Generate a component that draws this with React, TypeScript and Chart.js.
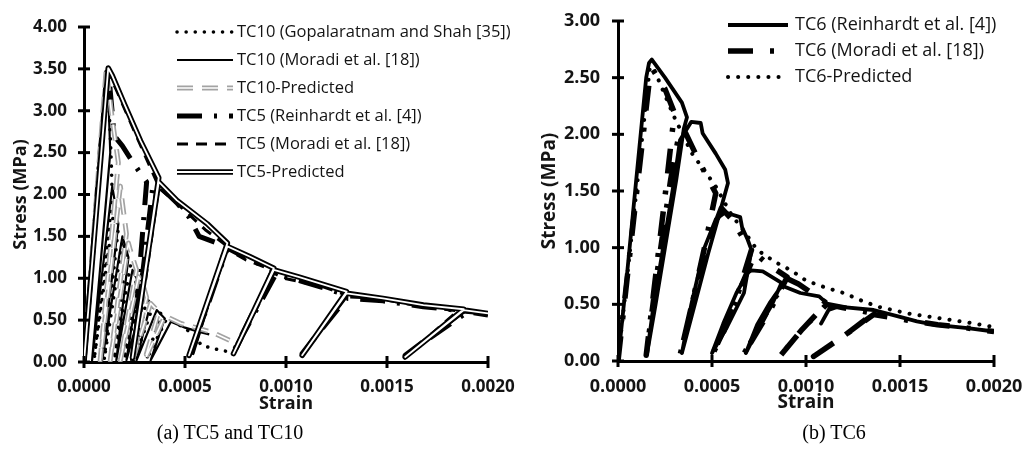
import { useEffect, useRef } from 'react';
import { Chart, registerables } from 'chart.js';

Chart.register(...registerables);
Chart.defaults.font.family = '"Open Sans", "DejaVu Sans", sans-serif';

// ---------- axis ticks ----------
const strainTicks = [0, 0.0005, 0.001, 0.0015, 0.002];
const stressTicksA = [0, 0.5, 1, 1.5, 2, 2.5, 3, 3.5, 4];
const stressTicksB = [0, 0.5, 1, 1.5, 2, 2.5, 3];

// ---------- labels ----------
const legendA = [
  'TC10 (Gopalaratnam and Shah [35])',
  'TC10 (Moradi et al. [18])',
  'TC10-Predicted',
  'TC5 (Reinhardt et al. [4])',
  'TC5 (Moradi et al. [18])',
  'TC5-Predicted',
];
const legendB = ['TC6 (Reinhardt et al. [4])', 'TC6 (Moradi et al. [18])', 'TC6-Predicted'];
const captionA = '(a) TC5 and TC10';
const captionB = '(b) TC6';
const strainTitle = 'Strain';
const stressTitle = 'Stress (MPa)';

// ---------- panel (a): TC10 ----------
const tc10GopStrain = [0, 0.00011, 0.000125, 0.000135, 0.00014, 0.00005, 0.00015, 0.00017, 0.0001, 0.00019, 0.00021, 0.00015, 0.00023, 0.00026, 0.0002, 0.00028, 0.00031, 0.00025, 0.00034, 0.00038, 0.00031, 0.00041, 0.00048, 0.00055, 0.00058, 0.00066, 0.00074];
const tc10GopStress = [0, 3.5, 3.0, 2.4, 1.95, 0.03, 1.85, 1.6, 0.03, 1.45, 1.3, 0.03, 1.15, 1.0, 0.03, 0.88, 0.75, 0.03, 0.66, 0.58, 0.03, 0.52, 0.43, 0.32, 0.2, 0.15, 0.11];

const tc10MorStrain = [0, 0.000105, 0.00012, 0.00013, 0.00004, 0.00014, 0.00017, 0.00009, 0.00019, 0.00022, 0.00016, 0.00024, 0.00027, 0.00021, 0.0003, 0.00033, 0.00026, 0.00036, 0.0004, 0.00033, 0.00043, 0.0005, 0.00057, 0.00062];
const tc10MorStress = [0, 3.45, 3.2, 2.5, 0.02, 2.1, 1.65, 0.02, 1.5, 1.25, 0.02, 1.1, 0.95, 0.02, 0.8, 0.7, 0.02, 0.62, 0.52, 0.02, 0.48, 0.41, 0.36, 0.33];

const tc10PredStrain = [0, 0.00011, 0.00014, 0.00017, 0.00008, 0.00018, 0.00019, 0.00021, 0.00013, 0.00022, 0.00023, 0.00026, 0.00018, 0.00027, 0.00029, 0.00031, 0.00024, 0.00033, 0.00037, 0.0003, 0.0004, 0.00048, 0.00054, 0.00064, 0.00072];
const tc10PredStress = [0, 3.5, 2.9, 2.38, 0.02, 2.1, 1.9, 1.53, 0.02, 1.42, 1.33, 1.1, 0.02, 1.02, 0.94, 0.77, 0.02, 0.7, 0.6, 0.02, 0.55, 0.46, 0.42, 0.35, 0.26];

// ---------- panel (a): TC5 ----------
const tc5ReiStrain = [0, 0.00004, 0.00008, 0.00012, 0.00015, 0.00019, 0.00023, 0.00028, 0.00031, 0.00024, 0.00034, 0.00039, 0.00046, 0.00052, 0.00057, 0.00066, 0.00071, 0.00053, 0.00071, 0.00082, 0.00094, 0.00074, 0.00095, 0.00107, 0.0013, 0.00108, 0.0013, 0.00148, 0.00168, 0.00188, 0.00159, 0.0019, 0.002];
const tc5ReiStress = [0, 1.2, 2.5, 3.5, 2.7, 2.58, 2.43, 2.25, 2.15, 0.02, 2.08, 2.06, 1.9, 1.73, 1.5, 1.42, 1.4, 0.1, 1.36, 1.22, 1.1, 0.12, 1.05, 0.97, 0.8, 0.1, 0.76, 0.73, 0.66, 0.61, 0.08, 0.6, 0.56];

const tc5MorStrain = [0, 0.00012, 0.00016, 0.00025, 0.00036, 0.00025, 0.00037, 0.00048, 0.0006, 0.0007, 0.00054, 0.0007, 0.0008, 0.00093, 0.00075, 0.00094, 0.00099, 0.00118, 0.0013, 0.00109, 0.00129, 0.00145, 0.00163, 0.00185, 0.0016, 0.00187, 0.002];
const tc5MorStress = [0, 3.45, 3.25, 2.75, 2.15, 0.05, 2.08, 1.85, 1.58, 1.4, 0.1, 1.36, 1.22, 1.1, 0.12, 1.06, 1.0, 0.9, 0.8, 0.12, 0.78, 0.76, 0.68, 0.61, 0.08, 0.6, 0.57];

const tc5PredStrain = [0, 0.00012, 0.00014, 0.0002, 0.00028, 0.00037, 0.00024, 0.00037, 0.00046, 0.00061, 0.00071, 0.00052, 0.00071, 0.00082, 0.00094, 0.00074, 0.00094, 0.00107, 0.0013, 0.00108, 0.0013, 0.00148, 0.00168, 0.00188, 0.00159, 0.00188, 0.002];
const tc5PredStress = [0, 3.51, 3.42, 3.08, 2.64, 2.2, 0.05, 2.15, 1.93, 1.65, 1.42, 0.08, 1.38, 1.26, 1.12, 0.1, 1.1, 1.01, 0.84, 0.08, 0.82, 0.76, 0.68, 0.63, 0.06, 0.62, 0.58];

// ---------- panel (b): TC6 ----------
const tc6ReiStrain = [0, 0.00005, 0.0001, 0.00015, 0.000165, 0.00018, 0.00025, 0.00034, 0.000367, 0.00035, 0.00031, 0.00025, 0.0002, 0.000155, 0.00019, 0.00024, 0.0003, 0.00033, 0.00039, 0.00044, 0.00045, 0.00052, 0.00057, 0.000585, 0.00055, 0.00048, 0.00041, 0.00034, 0.00039, 0.00046, 0.00052, 0.00057, 0.00061, 0.00065, 0.00066, 0.00069, 0.00071, 0.00067, 0.00058, 0.0005, 0.00056, 0.00063, 0.00069, 0.00071, 0.00077, 0.00087, 0.00082, 0.00075, 0.00068, 0.00074, 0.00081, 0.00086, 0.00088, 0.00097, 0.00107, 0.00113, 0.00108, 0.00112, 0.00117, 0.00136, 0.0015, 0.00159, 0.00168, 0.00186, 0.002];
const tc6ReiStress = [0, 0.8, 1.65, 2.5, 2.63, 2.66, 2.5, 2.28, 2.15, 2.05, 1.6, 1.0, 0.5, 0.07, 0.5, 1.0, 1.6, 1.95, 2.11, 2.1, 2.01, 1.83, 1.69, 1.57, 1.36, 0.95, 0.51, 0.07, 0.5, 1.0, 1.25, 1.31, 1.29, 1.27, 1.18, 1.07, 0.98, 0.6, 0.3, 0.07, 0.33, 0.6, 0.78, 0.8, 0.79, 0.69, 0.5, 0.3, 0.07, 0.32, 0.52, 0.64, 0.66, 0.6, 0.57, 0.48, 0.33, 0.45, 0.48, 0.45, 0.39, 0.35, 0.32, 0.29, 0.26];

const tc6MorStrain = [0, 0.0001, 0.000165, 0.000186, 0.00025, 0.0003, 0.00025, 0.0002, 0.00015, 0.00021, 0.00028, 0.00033, 0.00036, 0.00045, 0.00052, 0.00046, 0.0004, 0.00033, 0.0004, 0.00047, 0.00055, 0.00061, 0.00066, 0.00071, 0.00063, 0.00056, 0.0005, 0.00057, 0.00064, 0.00073, 0.0008, 0.0009, 0.00081, 0.000665, 0.00075, 0.00083, 0.00091, 0.00096, 0.00111, 0.00098, 0.00085, 0.00098, 0.00111, 0.0012, 0.00136, 0.0012, 0.00104, 0.0012, 0.00136, 0.00154, 0.0017, 0.00186, 0.002];
const tc6MorStress = [0, 1.5, 2.45, 2.57, 2.4, 2.19, 1.45, 0.75, 0.05, 0.8, 1.6, 2.05, 2.01, 1.7, 1.48, 1.0, 0.55, 0.05, 0.55, 1.0, 1.35, 1.24, 1.1, 0.98, 0.55, 0.25, 0.05, 0.3, 0.6, 0.95, 0.85, 0.74, 0.45, 0.05, 0.3, 0.55, 0.72, 0.68, 0.51, 0.28, 0.02, 0.28, 0.5, 0.47, 0.42, 0.22, 0.04, 0.22, 0.41, 0.36, 0.32, 0.29, 0.26];

const tc6PredStrain = [0, 0.00017, 0.0002, 0.0003, 0.00039, 0.00052, 0.0006, 0.00069, 0.00074, 0.00084, 0.00092, 0.001, 0.0011, 0.0012, 0.0013, 0.00138, 0.00154, 0.0017, 0.00186, 0.002];
const tc6PredStress = [0, 2.6, 2.54, 2.15, 1.84, 1.54, 1.3, 1.1, 0.98, 0.87, 0.8, 0.71, 0.65, 0.6, 0.53, 0.48, 0.42, 0.38, 0.34, 0.3];

// ---------- helpers ----------
type LineStyle = {
  color: string;
  width: number;
  dash?: number[];
  cap?: CanvasLineCap;
  order: number;
};

const toPoints = (strain: number[], stress: number[]) => strain.map((x, i) => ({ x, y: stress[i] }));

function line(strain: number[], stress: number[], s: LineStyle) {
  return {
    data: toPoints(strain, stress),
    showLine: true,
    borderColor: s.color,
    backgroundColor: s.color,
    borderWidth: s.width,
    borderDash: s.dash ?? [],
    borderCapStyle: s.cap ?? 'butt',
    borderJoinStyle: 'round',
    pointRadius: 0,
    pointHoverRadius: 0,
    tension: 0,
    fill: false,
    order: s.order,
  };
}

// Legend drawn inside the plot area, each sample stroked with its dataset styles
const insideLegend = {
  id: 'insideLegend',
  afterDraw(chart: any, _args: any, opts: any) {
    const { ctx } = chart;
    const { labels, sets, x0, x1, textX, y0, gap, fontSize } = opts;
    labels.forEach((label: string, i: number) => {
      const y = y0 + i * gap;
      sets[i].forEach((di: number) => {
        const ds = chart.data.datasets[di];
        ctx.save();
        ctx.strokeStyle = ds.borderColor;
        ctx.lineWidth = ds.borderWidth;
        ctx.setLineDash(ds.borderDash || []);
        ctx.lineCap = ds.borderCapStyle || 'butt';
        ctx.beginPath();
        ctx.moveTo(x0, y);
        ctx.lineTo(x1, y);
        ctx.stroke();
        ctx.restore();
      });
      ctx.save();
      ctx.fillStyle = '#141414';
      ctx.font = `${fontSize}px "Open Sans"`;
      ctx.textBaseline = 'middle';
      ctx.textAlign = 'left';
      ctx.fillText(label, textX, y);
      ctx.restore();
    });
  },
};

// Tick marks that cross the axis lines on both sides
const crossTicks = {
  id: 'crossTicks',
  afterDraw(chart: any) {
    const { ctx, chartArea } = chart;
    const len = 6;
    ctx.save();
    ctx.strokeStyle = '#000';
    ctx.lineWidth = 3;
    const xs = chart.scales.x;
    xs.ticks.forEach((t: any) => {
      const px = xs.getPixelForValue(t.value);
      ctx.beginPath();
      ctx.moveTo(px, chartArea.bottom - len);
      ctx.lineTo(px, chartArea.bottom + len);
      ctx.stroke();
    });
    const ys = chart.scales.y;
    ys.ticks.forEach((t: any) => {
      const py = ys.getPixelForValue(t.value);
      ctx.beginPath();
      ctx.moveTo(chartArea.left - len, py);
      ctx.lineTo(chartArea.left + len, py);
      ctx.stroke();
    });
    ctx.restore();
  },
};

type PanelSpec = {
  width: number;
  datasets: any[];
  yTicks: number[];
  area: { left: number; top: number; right: number; bottom: number };
  tickSize: number;
  titleSize: number;
  yLabelPad: number;
  yTitlePad: number;
  legend: any;
};

const H = 452;
const X_AXIS_H = 56;

function buildConfig(p: PanelSpec): any {
  const yMax = p.yTicks[p.yTicks.length - 1];
  return {
    type: 'scatter',
    data: { datasets: p.datasets },
    plugins: [crossTicks, insideLegend],
    options: {
      responsive: false,
      animation: false,
      devicePixelRatio: 1,
      events: [],
      layout: {
        padding: { left: 0, top: p.area.top, right: p.width - p.area.right, bottom: H - p.area.bottom - X_AXIS_H },
      },
      plugins: {
        legend: { display: false },
        tooltip: { enabled: false },
        insideLegend: p.legend,
      },
      scales: {
        x: {
          type: 'linear',
          min: 0,
          max: 0.002,
          afterBuildTicks: (s: any) => {
            s.ticks = strainTicks.map((value) => ({ value }));
          },
          afterFit: (s: any) => {
            s.height = X_AXIS_H;
            s.paddingLeft = 0;
            s.paddingRight = 0;
          },
          grid: { display: false, drawTicks: false },
          border: { display: true, color: '#000', width: 3 },
          ticks: {
            color: '#141414',
            padding: 15,
            maxRotation: 0,
            autoSkip: false,
            font: { size: p.tickSize, weight: 'bold' },
            callback: (v: any) => Number(v).toFixed(4),
          },
          title: {
            display: true,
            text: strainTitle,
            color: '#141414',
            font: { size: p.titleSize, weight: 'bold' },
            padding: { top: 0, bottom: 3 },
          },
        },
        y: {
          type: 'linear',
          min: 0,
          max: yMax,
          afterBuildTicks: (s: any) => {
            s.ticks = p.yTicks.map((value) => ({ value }));
          },
          afterFit: (s: any) => {
            s.width = p.area.left;
            s.paddingTop = 0;
            s.paddingBottom = 0;
          },
          grid: { display: false, drawTicks: false },
          border: { display: true, color: '#000', width: 3 },
          ticks: {
            color: '#141414',
            padding: p.yLabelPad,
            font: { size: p.tickSize, weight: 'bold' },
            callback: (v: any) => Number(v).toFixed(2),
          },
          title: {
            display: true,
            text: stressTitle,
            color: '#141414',
            font: { size: p.titleSize, weight: 'bold' },
            padding: { top: p.yTitlePad, bottom: 0 },
          },
        },
      },
    },
  };
}

const GRAY = '#a3a3a3';

const panelA: PanelSpec = {
  width: 540,
  datasets: [
    line(tc10GopStrain, tc10GopStress, { color: '#000', width: 3.5, dash: [0.1, 9], cap: 'round', order: 8 }),
    line(tc10MorStrain, tc10MorStress, { color: '#000', width: 2.2, order: 7 }),
    line(tc10PredStrain, tc10PredStress, { color: GRAY, width: 5, dash: [16, 9], order: 4 }),
    line(tc10PredStrain, tc10PredStress, { color: '#fff', width: 1.6, dash: [16, 9], order: 3 }),
    line(tc5ReiStrain, tc5ReiStress, { color: '#000', width: 5, dash: [25, 12, 3, 12], order: 6 }),
    line(tc5MorStrain, tc5MorStress, { color: '#000', width: 3, dash: [11, 8], order: 5 }),
    line(tc5PredStrain, tc5PredStress, { color: '#000', width: 5.5, order: 2 }),
    line(tc5PredStrain, tc5PredStress, { color: '#fff', width: 1.8, order: 1 }),
  ],
  yTicks: stressTicksA,
  area: { left: 84, top: 27, right: 488, bottom: 362 },
  tickSize: 17,
  titleSize: 18,
  yLabelPad: 17,
  yTitlePad: 10,
  legend: {
    labels: legendA,
    sets: [[0], [1], [2, 3], [4], [5], [6, 7]],
    x0: 177,
    x1: 233,
    textX: 237,
    y0: 32,
    gap: 28,
    fontSize: 16.5,
  },
};

const panelB: PanelSpec = {
  width: 511,
  datasets: [
    line(tc6ReiStrain, tc6ReiStress, { color: '#000', width: 3.8, order: 1 }),
    line(tc6MorStrain, tc6MorStress, { color: '#000', width: 5.5, dash: [25, 17, 4, 17], order: 2 }),
    line(tc6PredStrain, tc6PredStress, { color: '#000', width: 4, dash: [0.1, 10], cap: 'round', order: 3 }),
  ],
  yTicks: stressTicksB,
  area: { left: 107, top: 21, right: 483, bottom: 361 },
  tickSize: 18,
  titleSize: 19,
  yLabelPad: 18,
  yTitlePad: 27,
  legend: {
    labels: legendB,
    sets: [[0], [1], [2]],
    x0: 217,
    x1: 277,
    textX: 284,
    y0: 25,
    gap: 26,
    fontSize: 18,
  },
};

function Panel({ spec, left }: { spec: PanelSpec; left: number }) {
  const ref = useRef<HTMLCanvasElement | null>(null);
  useEffect(() => {
    if (!ref.current) return;
    const chart = new Chart(ref.current, buildConfig(spec));
    return () => chart.destroy();
  }, [spec]);
  return (
    <canvas
      ref={ref}
      width={spec.width}
      height={H}
      style={{ position: 'absolute', left, top: 0, width: spec.width, height: H }}
    />
  );
}

const captionStyle = {
  position: 'absolute' as const,
  top: 420,
  width: 240,
  textAlign: 'center' as const,
  fontFamily: '"Liberation Serif", "Times New Roman", serif',
  fontSize: 20,
  lineHeight: '24px',
  color: '#000',
  whiteSpace: 'nowrap' as const,
};

export default function App() {
  return (
    <div
      style={{
        position: 'absolute',
        left: 0,
        top: 0,
        width: 1022,
        height: 452,
        background: '#fff',
        overflow: 'hidden',
      }}
    >
      <Panel spec={panelA} left={0} />
      <Panel spec={panelB} left={511} />
      <div style={{ ...captionStyle, left: 230 - 120 }}>{captionA}</div>
      <div style={{ ...captionStyle, left: 834 - 120 }}>{captionB}</div>
    </div>
  );
}
